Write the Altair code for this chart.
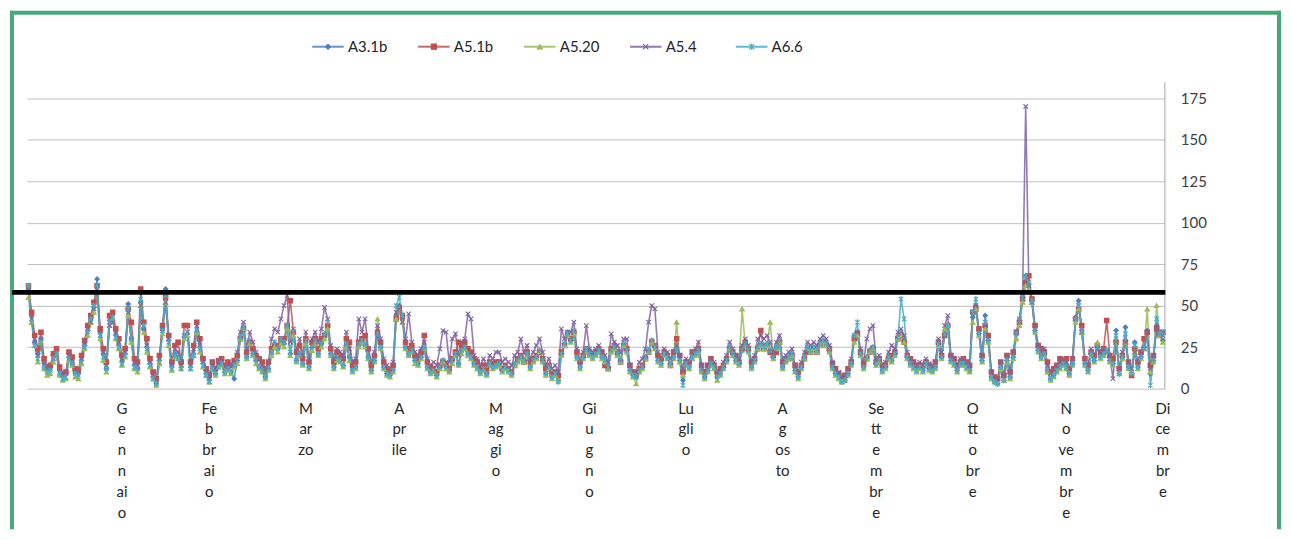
import altair as alt
import pandas as pd

series_names = ["A3.1b", "A5.1b", "A5.20", "A5.4", "A6.6"]
series_colors = ["#4F81BD", "#C0504D", "#9BBB59", "#8064A2", "#4BACC6"]
series_shapes = ["diamond", "square", "triangle-up",
                 "M-1,-1L1,1M-1,1L1,-1",
                 "M-1,-1L1,1M-1,1L1,-1M0,-1.3L0,1.3"]

month_days = [31, 28, 31, 30, 31, 30, 31, 31, 30, 31, 30, 31]
month_label_parts = [
    ["G", "e", "n", "n", "ai", "o"],
    ["Fe", "b", "br", "ai", "o"],
    ["M", "ar", "zo"],
    ["A", "pr", "ile"],
    ["M", "ag", "gi", "o"],
    ["Gi", "u", "g", "n", "o"],
    ["Lu", "gli", "o"],
    ["A", "g", "os", "to"],
    ["Se", "tt", "e", "m", "br", "e"],
    ["O", "tt", "o", "br", "e"],
    ["N", "o", "ve", "m", "br", "e"],
    ["Di", "ce", "m", "br", "e"],
]
y_ticks = [0, 25, 50, 75, 100, 125, 150, 175]
limit_line = [58]

a3_1b = [
    60,44,28,21,30,16,12,13,20,23,11,8,9,19,16,10,9,17,26,35,42,49,66,34,21,12,41,45,32,26,16,
    21,51,30,14,12,52,36,25,15,7,3,17,36,60,29,13,21,19,13,31,33,13,21,34,25,15,9,5,
    13,9,14,15,10,12,10,6,17,30,36,19,28,21,17,13,11,7,12,21,27,24,29,27,36,21,33,17,21,15,28,
    13,25,29,21,27,32,38,21,13,19,17,14,26,19,11,13,26,28,26,19,11,17,32,25,13,9,8,11,44,50,
    42,25,21,23,17,15,19,24,13,10,11,8,13,17,13,11,17,21,15,23,25,21,19,15,13,10,12,9,15,13,14,
    15,11,13,11,9,15,17,19,17,21,13,17,19,23,17,9,13,7,9,5,21,27,34,29,34,19,13,19,24,21,
    19,21,23,19,17,13,23,25,21,17,27,23,11,8,7,11,13,19,23,29,25,17,15,21,19,15,19,23,17,5,15,
    13,19,21,23,11,7,11,15,13,7,9,13,17,25,21,17,15,23,27,23,13,17,25,27,25,27,23,19,25,29,13,
    17,19,21,11,7,13,19,25,23,25,23,27,29,27,23,13,9,7,4,5,9,15,32,34,21,13,19,23,25,15,
    17,11,13,19,17,21,31,33,29,19,15,13,11,13,11,15,12,11,13,27,19,33,38,17,15,11,15,15,13,11,43,
    50,33,17,44,29,7,4,3,13,5,17,7,19,33,41,55,68,63,53,35,23,19,21,11,6,8,11,13,15,13,
    9,15,43,53,35,15,11,21,17,25,19,21,23,17,15,35,9,19,37,13,9,28,13,19,25,35,9,17,38,33,29,
]
a5_1b = [
    62,46,32,24,34,18,13,14,21,24,13,9,10,22,19,12,11,20,29,38,44,52,62,36,24,16,44,46,36,30,20,
    24,48,40,18,16,60,40,30,18,10,6,20,38,55,32,16,26,28,16,38,38,16,26,40,30,18,12,8,
    16,12,17,18,14,16,14,17,20,30,36,22,28,24,20,18,16,12,16,24,26,26,30,30,38,53,34,22,26,18,30,
    16,28,30,24,30,32,38,24,16,22,20,18,30,28,14,16,28,30,32,24,14,20,34,28,16,12,10,14,42,48,
    44,28,24,26,20,18,22,32,16,13,12,10,14,16,15,12,18,22,28,26,28,24,22,18,16,12,14,11,16,15,16,
    16,12,14,12,10,14,18,20,16,22,16,18,20,22,18,12,14,9,10,8,22,26,32,30,34,22,16,20,24,22,
    20,22,24,22,14,12,24,26,22,16,26,24,14,10,9,12,14,18,22,28,26,20,18,22,20,14,22,30,20,10,16,
    16,22,22,24,14,10,14,18,14,10,12,14,18,24,22,20,16,24,28,24,16,18,24,35,24,26,22,20,22,28,16,
    18,18,20,14,10,14,18,22,22,24,22,26,28,26,24,15,12,9,7,8,12,16,30,33,22,15,18,22,24,16,
    18,14,14,18,20,22,30,32,28,20,18,16,14,14,14,16,14,12,16,28,20,32,38,20,18,14,16,18,16,14,46,
    48,36,20,38,32,10,7,6,16,8,20,10,22,34,40,54,64,68,54,38,26,24,22,16,10,12,14,18,16,18,
    12,18,42,48,38,18,14,22,20,26,22,24,41,20,18,28,12,20,28,16,8,24,16,22,30,34,14,20,36,32,34,
]
a5_20 = [
    55,40,26,16,28,12,8,9,16,20,8,5,6,17,14,7,6,15,24,32,40,46,58,30,17,10,38,42,30,24,14,
    19,44,28,12,10,50,34,22,13,6,2,15,33,52,26,11,19,18,12,30,32,12,20,34,22,13,8,4,
    12,8,13,14,9,11,9,13,15,30,36,18,27,20,15,12,10,6,11,20,25,22,27,25,36,20,32,16,20,14,27,
    12,23,27,20,25,30,36,20,12,17,16,13,25,17,10,12,25,28,25,18,10,16,42,24,12,8,7,10,42,48,
    40,24,20,22,15,14,18,24,12,9,10,7,12,16,12,10,15,20,14,21,24,20,18,14,12,9,11,8,14,12,13,
    14,10,12,10,8,14,16,18,16,20,12,16,18,22,16,8,12,6,8,5,20,26,32,28,33,18,12,18,22,20,
    18,20,22,18,16,12,22,24,20,16,26,22,10,7,3,10,12,18,22,28,24,16,14,20,18,14,18,40,16,8,14,
    12,18,20,22,10,6,10,14,12,5,8,12,16,24,20,16,14,48,26,22,12,16,24,26,24,26,40,18,24,28,12,
    16,18,20,10,6,12,18,24,22,24,22,26,28,26,22,12,8,6,4,5,8,14,28,32,20,12,18,22,24,14,
    16,10,12,18,16,20,30,32,28,18,14,12,10,12,10,14,11,10,12,26,18,36,38,16,14,10,14,14,12,10,40,
    48,32,16,36,28,6,4,3,12,5,16,6,18,30,38,52,62,60,52,34,22,18,20,10,5,7,10,12,14,12,
    8,14,40,48,34,14,10,20,16,28,18,20,22,16,14,28,9,18,28,12,10,22,12,18,24,48,10,16,50,32,28,
]
a5_4 = [
    58,42,28,20,30,14,12,12,18,20,10,8,9,20,16,10,10,18,28,36,40,48,60,32,22,14,38,40,34,28,18,
    22,46,30,16,14,50,36,26,16,8,5,18,36,52,30,15,24,22,16,32,34,16,24,38,28,18,12,8,
    16,12,16,18,13,14,14,16,22,34,40,24,34,28,22,18,14,10,16,30,36,34,42,50,56,28,36,22,30,20,34,
    18,30,34,28,36,49,42,26,18,24,22,20,34,24,16,18,42,34,42,24,16,22,38,30,18,14,12,16,46,48,
    40,30,45,28,22,20,24,28,18,14,16,14,24,35,34,16,30,33,20,28,30,45,42,20,18,14,18,14,20,18,22,
    22,16,18,16,14,20,22,30,22,26,18,22,26,30,22,14,18,12,14,10,36,30,34,34,40,24,16,22,38,24,
    22,24,26,22,20,16,33,28,26,22,30,30,14,10,10,16,18,24,40,50,48,22,18,24,22,18,22,26,20,12,18,
    16,22,24,28,14,10,14,18,16,10,12,16,20,28,24,20,18,26,30,26,16,20,30,32,30,32,28,22,28,32,16,
    20,22,24,14,10,16,22,28,26,28,26,30,32,30,26,16,12,10,7,8,12,18,32,34,24,16,30,36,38,18,
    20,14,16,22,26,24,34,36,32,22,18,16,14,16,14,18,15,14,16,30,22,38,44,20,18,14,18,18,16,14,46,
    50,34,20,38,30,10,7,6,16,8,20,10,22,34,42,56,170,62,52,36,26,22,24,14,9,11,14,16,18,16,
    12,18,42,50,34,18,14,24,20,24,22,24,22,20,6,28,12,22,28,16,12,22,16,22,24,34,12,20,36,34,32,
]
a6_6 = [
    62,40,26,18,28,13,10,11,18,21,9,6,7,18,15,9,8,16,25,34,42,50,62,32,19,12,40,43,31,25,15,
    20,48,30,13,12,54,38,24,14,6,3,16,35,56,28,12,20,18,12,32,34,12,20,35,24,14,8,4,
    12,9,13,15,10,12,10,14,17,31,37,19,29,21,17,13,11,7,12,22,28,24,30,28,38,22,34,17,21,15,29,
    13,25,29,21,27,33,40,21,13,19,17,14,27,19,11,13,27,29,27,19,11,17,33,25,13,9,8,11,50,55,
    44,25,21,23,17,15,19,25,13,10,11,8,13,17,13,11,17,21,15,23,25,21,19,15,13,10,12,9,15,13,14,
    15,11,13,11,9,15,17,19,17,21,13,17,19,23,17,9,13,7,9,4,21,27,33,29,35,19,13,19,24,21,
    19,21,23,19,17,13,23,25,21,17,27,23,11,8,7,11,13,19,23,29,25,17,15,21,19,15,19,23,17,2,15,
    13,19,21,23,11,7,11,15,13,7,9,13,17,25,21,17,15,23,27,23,13,17,25,27,25,27,23,19,25,29,13,
    17,19,21,11,7,13,19,25,23,25,23,27,29,27,23,13,9,7,4,5,9,15,32,40,21,13,19,23,25,15,
    17,11,13,19,17,21,31,54,42,19,15,13,11,13,11,15,12,11,13,27,19,33,38,17,15,11,15,15,13,11,46,
    54,33,17,40,29,7,4,3,13,5,17,7,19,33,41,55,68,64,53,35,23,19,21,11,6,8,11,13,15,13,
    9,15,42,50,35,15,11,21,17,25,19,21,23,17,15,32,9,19,33,13,9,26,13,19,25,30,2,17,42,33,34,
]

# ---- tables built from the arrays ----
rows = []
for k, (name, vals) in enumerate(zip(series_names, [a3_1b, a5_1b, a5_20, a5_4, a6_6])):
    for d, v in enumerate(vals):
        rows.append({"series": name, "day": d, "value": v, "k": k})
df = pd.DataFrame(rows)

ends = []
acc = 0
for n in month_days:
    acc += n
    ends.append(acc - 1)
month_df = pd.DataFrame({"day": ends, "label": ["\n".join(p) for p in month_label_parts]})
legend_df = pd.DataFrame({"series": series_names})
limit_df = pd.DataFrame({"limit": limit_line})
one = pd.DataFrame({"a": [0]})

W, H = 1141, 308
FONT = "Lato"
GREEN = "#45A97B"
RIGHT_EDGE = 1258  # plot-coordinate x of the chart's right edge (keeps page width within window)

x_scale = alt.Scale(domain=[-0.5, 364.5], nice=False, zero=False)
y_scale = alt.Scale(domain=[0, 185], nice=False)
color_scale = alt.Scale(domain=series_names, range=series_colors)
shape_scale = alt.Scale(domain=series_names, range=series_shapes)

y_axis = alt.Axis(orient="right", values=y_ticks, grid=True, gridColor="#BFBFBF",
                  gridWidth=1, domain=True, domainColor="#A6A6A6", ticks=False,
                  tickSize=0, labelPadding=16, labelFontSize=15, labelFont=FONT,
                  labelColor="#404040", title=None)

lines = alt.Chart(df).mark_line(strokeWidth=1.6, opacity=0.85).encode(
    x=alt.X("day:Q", scale=x_scale, axis=None),
    y=alt.Y("value:Q", scale=y_scale, axis=y_axis),
    color=alt.Color("series:N", scale=color_scale, legend=None),
    order="day:Q",
)
points = alt.Chart(df).mark_point(filled=True, size=20, strokeWidth=1.1, opacity=1).encode(
    x=alt.X("day:Q", scale=x_scale, axis=None),
    y=alt.Y("value:Q", scale=y_scale, axis=y_axis),
    fill=alt.Fill("series:N", scale=color_scale, legend=None),
    stroke=alt.Stroke("series:N", scale=color_scale, legend=None),
    shape=alt.Shape("series:N", scale=shape_scale, legend=None),
    order="k:Q",
)
limit_rule = alt.Chart(limit_df).mark_rule(color="black", strokeWidth=5).encode(
    y=alt.Y("limit:Q", scale=y_scale),
    x=alt.value(-15), x2=alt.value(W + 1),
)
month_text = alt.Chart(month_df).mark_text(
    lineBreak="\n", baseline="top", align="center", fontSize=15, lineHeight=21,
    font=FONT, color="#262626"
).encode(
    x=alt.X("day:Q", scale=x_scale, axis=None),
    y=alt.value(H + 13),
    text="label:N",
)
main = alt.layer(lines, points, limit_rule, month_text)

lx = alt.X("series:N", scale=alt.Scale(domain=series_names, range=[302, 727], padding=0), axis=None)
leg_line = alt.Chart(legend_df).mark_point(shape="M-1,0L1,0", size=1000, filled=False,
                                           strokeWidth=2, opacity=0.85).encode(
    x=lx, y=alt.value(-35),
    color=alt.Color("series:N", scale=color_scale, legend=None),
)
leg_mark = alt.Chart(legend_df).mark_point(filled=True, size=26, strokeWidth=1.1, opacity=1).encode(
    x=lx, y=alt.value(-35),
    fill=alt.Fill("series:N", scale=color_scale, legend=None),
    stroke=alt.Stroke("series:N", scale=color_scale, legend=None),
    shape=alt.Shape("series:N", scale=shape_scale, legend=None),
)
leg_text = alt.Chart(legend_df).mark_text(align="left", dx=20, baseline="middle",
                                          fontSize=15, font=FONT, color="#262626").encode(
    x=lx, y=alt.value(-35), text="series:N",
)
legend = alt.layer(leg_line, leg_mark, leg_text)

border_left = alt.Chart(one).mark_rule(color=GREEN, strokeWidth=4).encode(
    x=alt.value(-15), y=alt.value(-71), y2=alt.value(449))
border_top = alt.Chart(one).mark_rule(color=GREEN, strokeWidth=4).encode(
    y=alt.value(-69), x=alt.value(-17), x2=alt.value(RIGHT_EDGE))
border_right = alt.Chart(one).mark_rule(color=GREEN, strokeWidth=4).encode(
    x=alt.value(RIGHT_EDGE - 2), y=alt.value(-71), y2=alt.value(449))

chart = alt.layer(border_left, border_top, border_right, main, legend).resolve_scale(
    x="independent"
).properties(width=W, height=H, padding=0, background="white").configure_view(stroke=None)

chart.save("out.html", embed_options={"renderer": "svg", "actions": False})
